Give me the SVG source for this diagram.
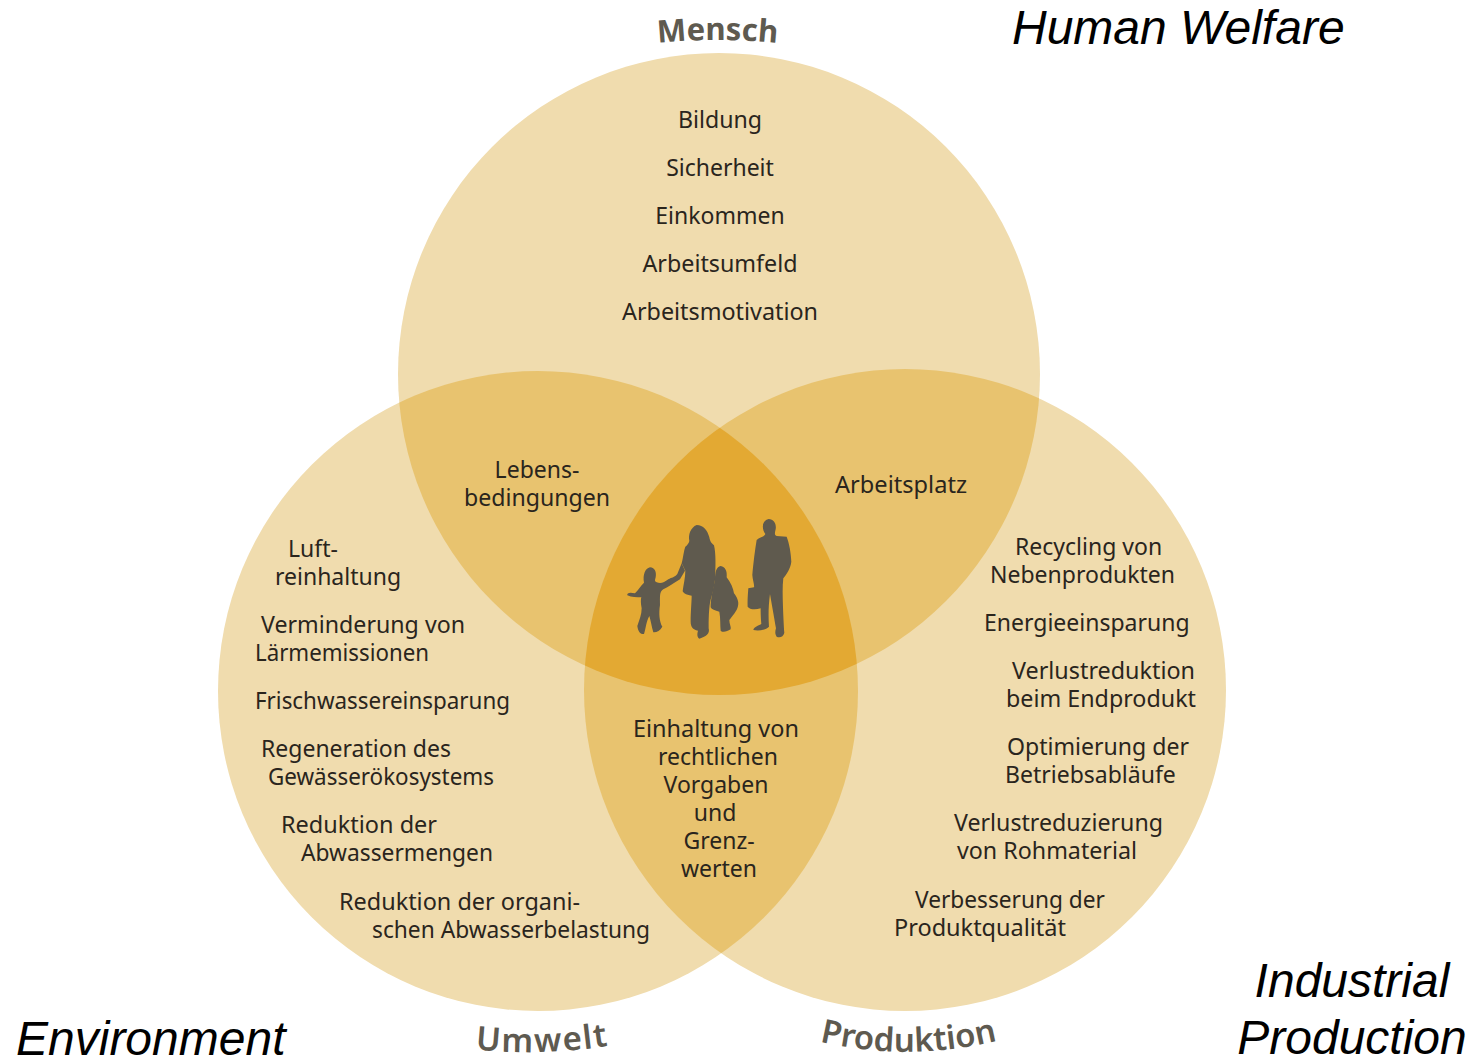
<svg xmlns="http://www.w3.org/2000/svg" width="1473" height="1060" viewBox="0 0 1473 1060">
<style>
.t{font-family:"Noto Sans","Open Sans",sans-serif;font-size:23px;fill:#2a251d}
.m{text-anchor:middle}
.h{font-family:"Noto Sans","Open Sans",sans-serif;font-size:33px;font-weight:600;fill:#5e5a50}
.e{font-family:"Liberation Sans",Arial,sans-serif;font-size:48px;font-style:italic;fill:#000}
.c1{fill:#f0dcae}.c2{fill:#e8c36f}.c3{fill:#e3a933}
.s{fill:#5f5a4e}
</style>
<defs>
<clipPath id="ca"><circle cx="719" cy="374" r="321"/></clipPath>
<clipPath id="cb"><circle cx="538" cy="691" r="320"/></clipPath>
<clipPath id="cc"><circle cx="905" cy="690" r="321"/></clipPath>
<path id="pm" d="M640 45 Q718 35 795 45"/>
<path id="pu" d="M465 1048 Q540 1058 620 1044"/>
<path id="pp" d="M805 1038 Q908 1066 1012 1037"/>
</defs>
<rect width="1473" height="1060" fill="#fff"/>
<g id="venn">
<circle id="mensch" class="c1" cx="719" cy="374" r="321"/>
<circle id="umwelt" class="c1" cx="538" cy="691" r="320"/>
<circle id="produktion" class="c1" cx="905" cy="690" r="321"/>
<g clip-path="url(#ca)"><circle class="c2" cx="538" cy="691" r="320"/><circle class="c2" cx="905" cy="690" r="321"/></g>
<g clip-path="url(#cb)"><circle class="c2" cx="905" cy="690" r="321"/></g>
<g clip-path="url(#ca)"><g clip-path="url(#cb)"><circle class="c3" cx="905" cy="690" r="321"/></g></g>
</g>
<g id="family" transform="translate(600 500) scale(.3333)">
<path class="s" d="M150 202C165 203 170 218 167 232C165 240 163 244 170 247C182 252 192 248 205 238C215 232 225 232 232 222L245 190L255 212L240 238C222 248 205 262 190 268C178 275 180 290 180 315C176 340 178 365 187 380C180 392 170 398 160 397C155 380 152 360 148 348C138 365 138 385 132 402C122 404 114 395 112 378C118 360 125 345 125 325C122 310 122 298 124 292C110 292 95 292 82 286C80 278 90 276 105 280C115 270 122 258 132 248C128 225 135 205 150 202Z"/>
<path class="s" d="M290 75C310 76 322 90 328 112C330 122 332 128 342 136C348 160 347 200 345 240C342 262 338 280 334 292C328 310 326 340 326 385C330 400 320 410 298 416C290 410 292 400 294 392C278 388 272 380 272 365C272 335 275 305 275 287C262 285 252 282 248 274C250 255 256 235 256 212L245 190C250 170 252 150 256 140C262 135 268 128 268 122C264 105 272 82 290 75Z"/>
<path class="s" d="M362 198C376 200 382 214 380 232C392 248 400 265 402 280C410 290 418 305 414 318C412 332 396 350 388 360C388 372 394 380 392 388C380 396 368 398 362 392C360 375 362 355 358 335C345 332 335 328 332 322C332 300 338 270 345 240C345 215 350 200 362 198Z"/>
<path class="s" d="M506 57C522 58 530 72 527 88C525 98 522 104 530 108L560 110C568 130 573 160 574 185C572 205 560 222 550 235C547 260 548 290 549 320C550 350 552 385 553 398C550 410 540 415 530 410C525 402 525 395 528 385C522 350 515 310 510 282C505 320 505 350 507 380C500 388 480 394 460 390C462 380 478 376 484 372C482 350 482 335 482 325C465 330 448 328 443 320C442 300 444 280 445 265L462 262C464 255 458 240 457 225C460 190 465 150 470 120C480 110 492 112 496 102C484 85 486 62 506 57Z"/>
</g>
<g id="top-labels">
<text class="t m" x="720" y="128" textLength="84" lengthAdjust="spacingAndGlyphs">Bildung</text>
<text class="t m" x="720" y="176">Sicherheit</text>
<text class="t m" x="720" y="224">Einkommen</text>
<text class="t m" x="720" y="272" textLength="155" lengthAdjust="spacingAndGlyphs">Arbeitsumfeld</text>
<text class="t m" x="720" y="320" textLength="196" lengthAdjust="spacingAndGlyphs">Arbeitsmotivation</text>
</g>
<g id="overlap-labels">
<text class="t m" x="537" y="478">Lebens-</text>
<text class="t m" x="537" y="506" textLength="146" lengthAdjust="spacingAndGlyphs">bedingungen</text>
<text class="t m" x="901" y="493" textLength="132" lengthAdjust="spacingAndGlyphs">Arbeitsplatz</text>
<text class="t m" x="716" y="737" textLength="166" lengthAdjust="spacingAndGlyphs">Einhaltung von</text>
<text class="t m" x="718" y="765">rechtlichen</text>
<text class="t m" x="716" y="793">Vorgaben</text>
<text class="t m" x="715" y="821">und</text>
<text class="t m" x="719" y="849">Grenz-</text>
<text class="t m" x="719" y="877">werten</text>
</g>
<g id="left-labels">
<text class="t" x="288" y="557">Luft-</text>
<text class="t" x="275" y="585">reinhaltung</text>
<text class="t" x="261" y="633" textLength="204" lengthAdjust="spacingAndGlyphs">Verminderung von</text>
<text class="t" x="255" y="661" textLength="174" lengthAdjust="spacingAndGlyphs">Lärmemissionen</text>
<text class="t" x="255" y="709" textLength="255" lengthAdjust="spacingAndGlyphs">Frischwassereinsparung</text>
<text class="t" x="261" y="757">Regeneration des</text>
<text class="t" x="268" y="785" textLength="226" lengthAdjust="spacingAndGlyphs">Gewässerökosystems</text>
<text class="t" x="281" y="833" textLength="156" lengthAdjust="spacingAndGlyphs">Reduktion der</text>
<text class="t" x="301" y="861" textLength="192" lengthAdjust="spacingAndGlyphs">Abwassermengen</text>
<text class="t" x="339" y="910" textLength="241" lengthAdjust="spacingAndGlyphs">Reduktion der organi-</text>
<text class="t" x="372" y="938" textLength="278" lengthAdjust="spacingAndGlyphs">schen Abwasserbelastung</text>
</g>
<g id="right-labels">
<text class="t" x="1015" y="555">Recycling von</text>
<text class="t" x="990" y="583">Nebenprodukten</text>
<text class="t" x="984" y="631">Energieeinsparung</text>
<text class="t" x="1012" y="679" textLength="183" lengthAdjust="spacingAndGlyphs">Verlustreduktion</text>
<text class="t" x="1006" y="707" textLength="190" lengthAdjust="spacingAndGlyphs">beim Endprodukt</text>
<text class="t" x="1007" y="755" textLength="182" lengthAdjust="spacingAndGlyphs">Optimierung der</text>
<text class="t" x="1005" y="783">Betriebsabläufe</text>
<text class="t" x="954" y="831" textLength="209" lengthAdjust="spacingAndGlyphs">Verlustreduzierung</text>
<text class="t" x="957" y="859" textLength="180" lengthAdjust="spacingAndGlyphs">von Rohmaterial</text>
<text class="t" x="915" y="908" textLength="190" lengthAdjust="spacingAndGlyphs">Verbesserung der</text>
<text class="t" x="894" y="936" textLength="172" lengthAdjust="spacingAndGlyphs">Produktqualität</text>
</g>
<g id="heads">
<text class="h" style="font-size:31px;font-weight:700"><textPath href="#pm" startOffset="50%" text-anchor="middle">Mensch</textPath></text>
<text class="h" letter-spacing="1.5"><textPath href="#pu" startOffset="50%" text-anchor="middle">Umwelt</textPath></text>
<text class="h"><textPath href="#pp" startOffset="50%" text-anchor="middle">Produktion</textPath></text>
</g>
<g id="english">
<text class="e" x="1012" y="44">Human Welfare</text>
<text class="e" x="1352" y="997" text-anchor="middle">Industrial</text>
<text class="e" x="1352" y="1054" text-anchor="middle">Production</text>
<text class="e" x="16" y="1055">Environment</text>
</g>
</svg>
